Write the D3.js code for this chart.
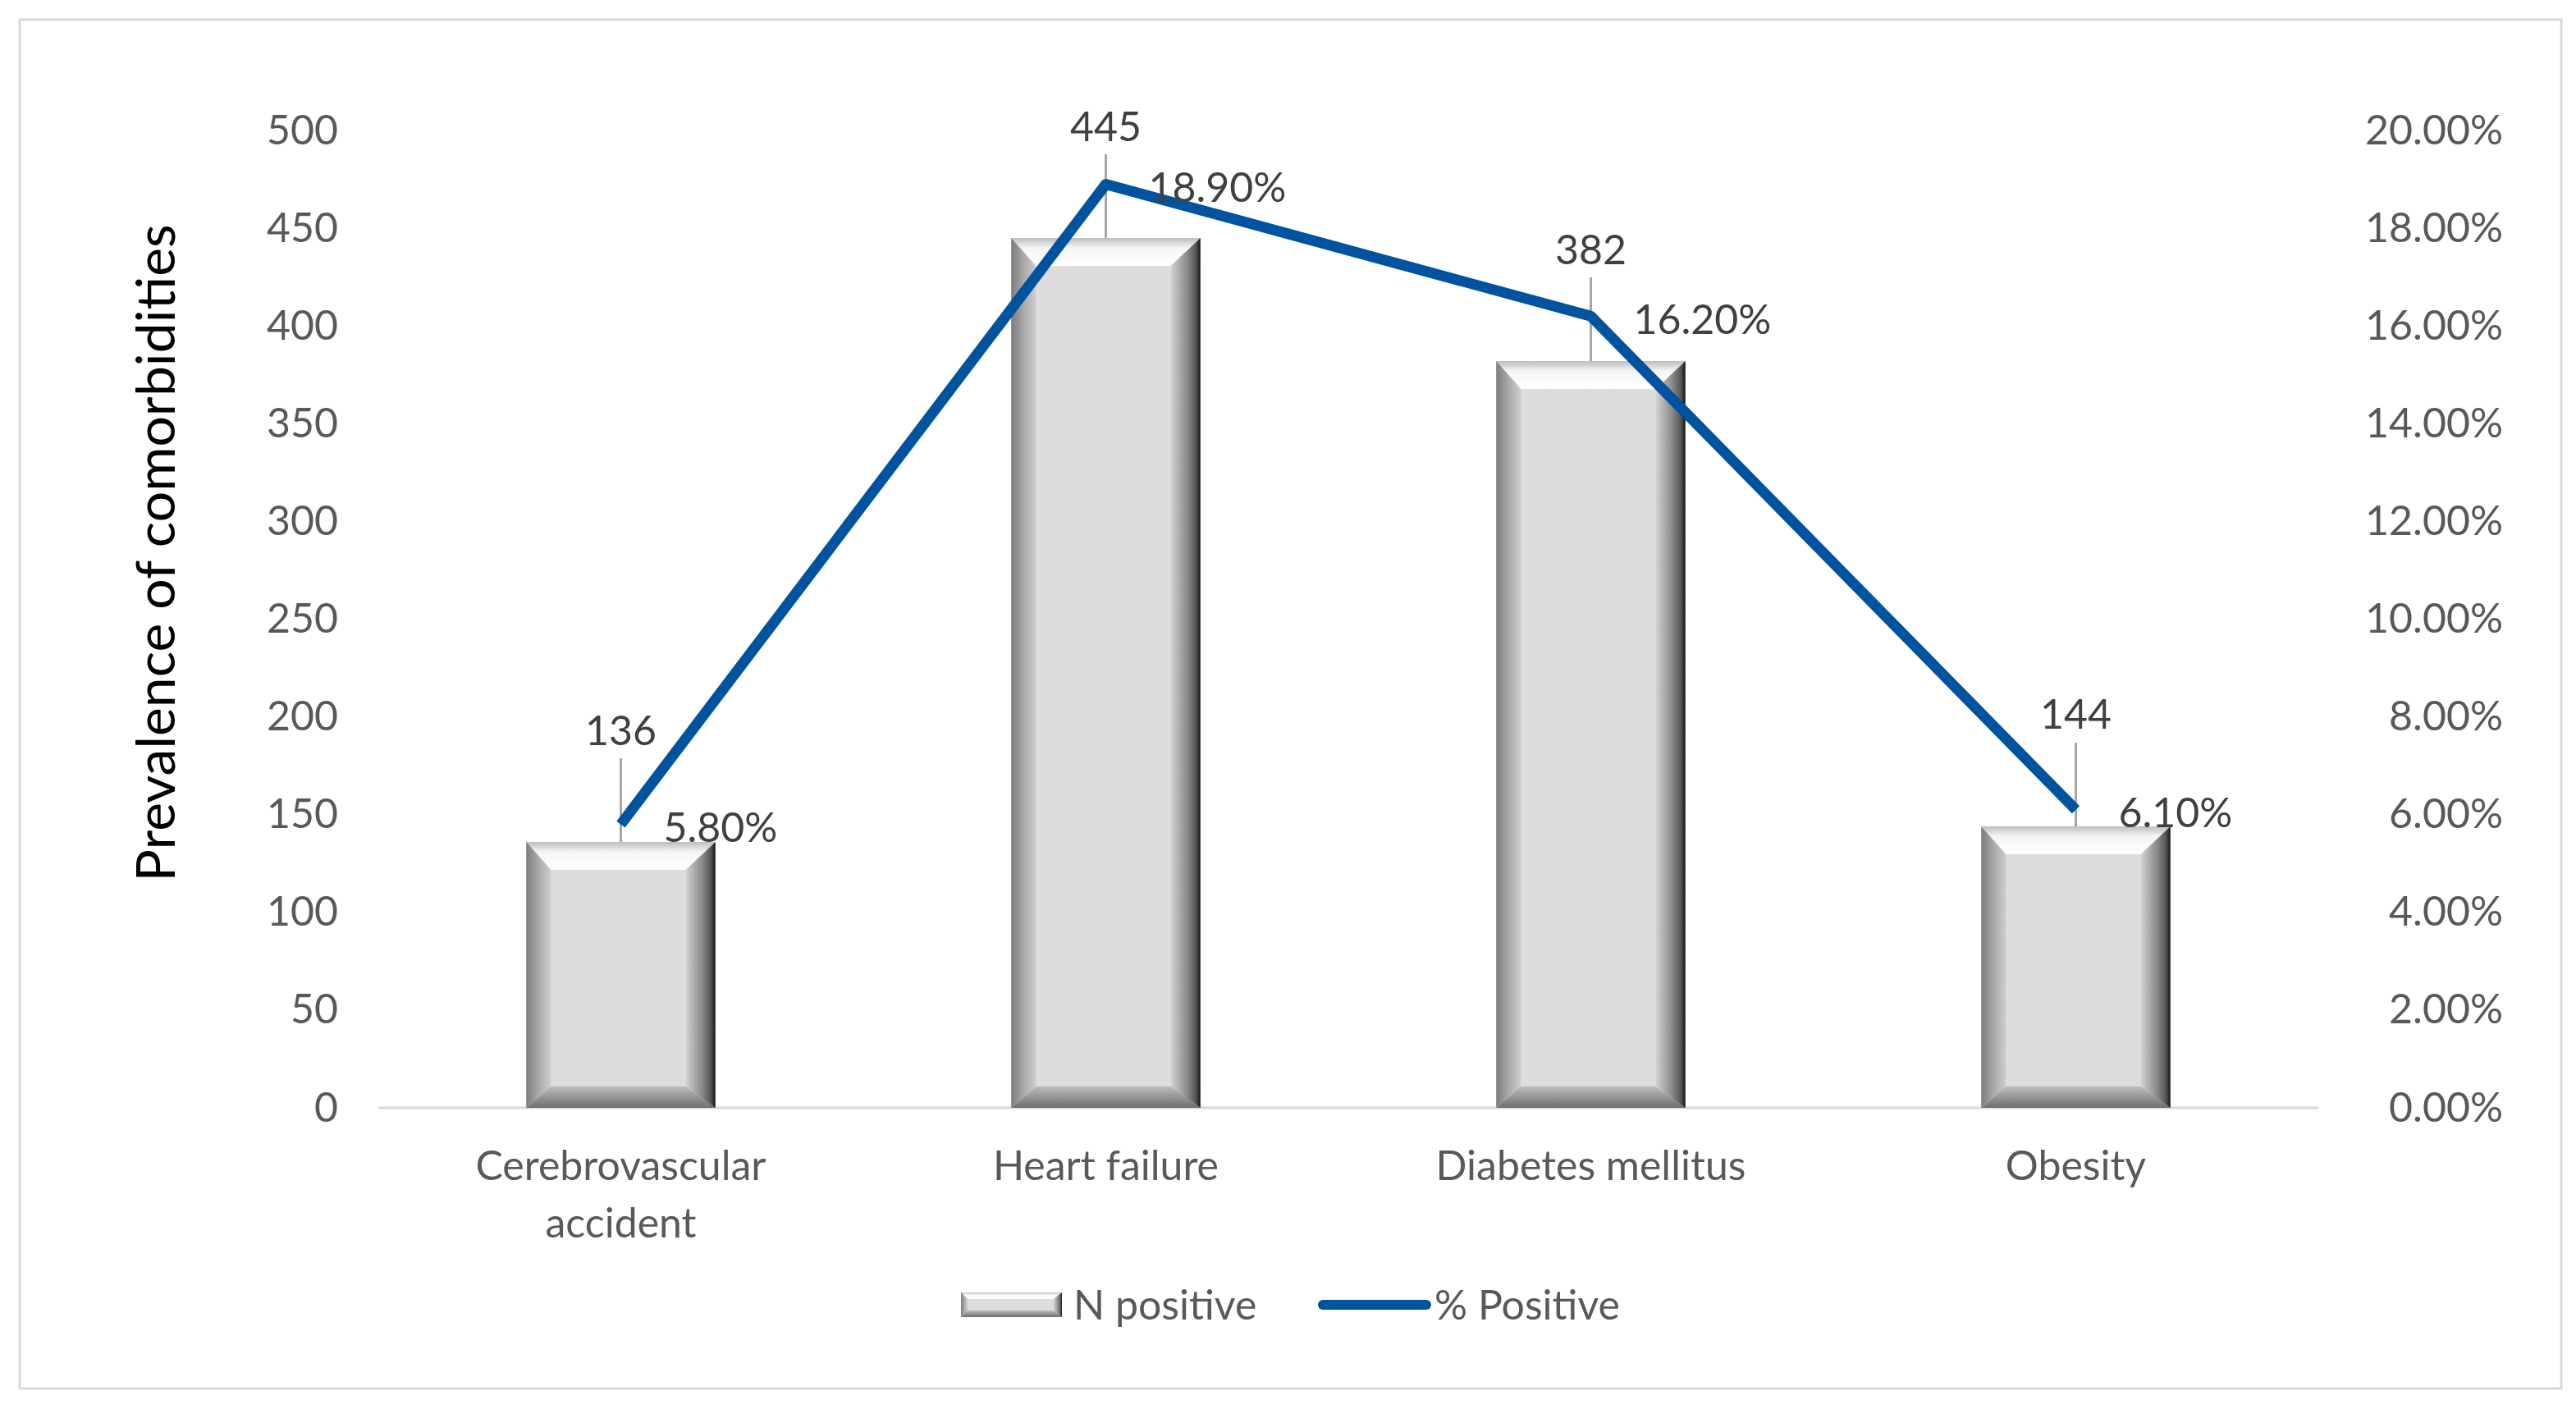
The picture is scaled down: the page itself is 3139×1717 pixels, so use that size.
<!DOCTYPE html>
<html>
<head>
<meta charset="utf-8">
<script src="https://cdn.jsdelivr.net/npm/d3@7"></script>
<style>
  body { margin: 0; background: #fff; }
  text { font-family: Lato, "Open Sans", sans-serif; }
</style>
</head>
<body>
<div id="chart"></div>
<script>
// values
const categories = [["Cerebrovascular", "accident"], ["Heart failure"], ["Diabetes mellitus"], ["Obesity"]];
const nPositive = [136, 445, 382, 144];
const pctPositive = [0.058, 0.189, 0.162, 0.061];
const pctLabels = ["5.80%", "18.90%", "16.20%", "6.10%"];
const leftTicks = [0, 50, 100, 150, 200, 250, 300, 350, 400, 450, 500];
const rightTicks = [0, 0.02, 0.04, 0.06, 0.08, 0.10, 0.12, 0.14, 0.16, 0.18, 0.20];
const seriesNames = ["N positive", "% Positive"];

const W = 3139, H = 1717;
const plot = { left: 461, right: 2825, top: 159, bottom: 1350 };

const svg = d3.select("#chart")
  .append("svg")
    .attr("width", W)
    .attr("height", H);

// gradients for the bevelled bars
const defs = svg.append("defs");
const grad = (id, x2, y2, stops) => {
  const g = defs.append("linearGradient")
    .attr("id", id)
    .attr("x1", 0).attr("y1", 0)
    .attr("x2", x2).attr("y2", y2);
  stops.forEach(s => g.append("stop").attr("offset", s[0]).attr("stop-color", s[1]));
};
grad("bevTop", 0, 1, [[0, "#bdbdbd"], [0.35, "#f4f4f4"], [1, "#ffffff"]]);
grad("bevLeft", 1, 0, [[0, "#7c7c7c"], [0.5, "#a9a9a9"], [1, "#cfcdce"]]);
grad("bevRight", 1, 0, [[0, "#d4d2d3"], [0.55, "#8a8a8a"], [0.85, "#555"], [1, "#111"]]);
grad("bevBottom", 0, 1, [[0, "#bdbbbc"], [1, "#6f6f6f"]]);

// outer frame
svg.append("rect")
  .attr("x", 24).attr("y", 24)
  .attr("width", 3097).attr("height", 1668)
  .attr("fill", "none")
  .attr("stroke", "#d9d9d9")
  .attr("stroke-width", 3);

// scales
const x = d3.scaleBand()
  .domain(d3.range(categories.length))
  .range([plot.left, plot.right])
  .paddingInner(0.61)
  .paddingOuter(0.305);

const yL = d3.scaleLinear().domain([0, 500]).range([plot.bottom, plot.top]);
const yR = d3.scaleLinear().domain([0, 0.2]).range([plot.bottom, plot.top]);

// left axis labels
svg.append("g")
  .attr("transform", "translate(412,0)")
  .call(d3.axisLeft(yL).tickValues(leftTicks).tickSize(0).tickPadding(0))
  .call(g => g.select(".domain").remove())
  .selectAll("text")
    .attr("fill", "#595959")
    .style("font-size", "50px")
    .style("font-family", "Lato, sans-serif");

// right axis labels (right aligned like the reference)
svg.append("g")
  .attr("transform", "translate(3050,0)")
  .call(d3.axisLeft(yR).tickValues(rightTicks).tickSize(0).tickPadding(0).tickFormat(d3.format(".2%")))
  .call(g => g.select(".domain").remove())
  .selectAll("text")
    .attr("fill", "#595959")
    .style("font-size", "50px")
    .style("font-family", "Lato, sans-serif");

// y-axis title
svg.append("text")
  .attr("transform", "translate(190,674) rotate(-90)")
  .attr("text-anchor", "middle")
  .attr("dy", "0.35em")
  .style("font-size", "66px")
  .attr("fill", "#000")
  .text("Prevalence of comorbidities");

// baseline
svg.append("line")
  .attr("x1", plot.left).attr("x2", plot.right)
  .attr("y1", yL(0)).attr("y2", yL(0))
  .attr("stroke", "#d9d9d9")
  .attr("stroke-width", 3);

// draws a bevelled bar
const bevelBar = (g, x0, y0, w, h, b) => {
  const x1 = x0 + w, y1 = y0 + h;
  g.append("rect").attr("x", x0).attr("y", y0).attr("width", w).attr("height", h).attr("fill", "#dedcdd");
  g.append("polygon").attr("fill", "url(#bevTop)")
    .attr("points", [[x0, y0], [x1, y0], [x1 - b.r, y0 + b.t], [x0 + b.l, y0 + b.t]].join(" "));
  g.append("polygon").attr("fill", "url(#bevBottom)")
    .attr("points", [[x0, y1], [x1, y1], [x1 - b.r, y1 - b.b], [x0 + b.l, y1 - b.b]].join(" "));
  g.append("polygon").attr("fill", "url(#bevLeft)")
    .attr("points", [[x0, y0], [x0 + b.l, y0 + b.t], [x0 + b.l, y1 - b.b], [x0, y1]].join(" "));
  g.append("polygon").attr("fill", "url(#bevRight)")
    .attr("points", [[x1, y0], [x1 - b.r, y0 + b.t], [x1 - b.r, y1 - b.b], [x1, y1]].join(" "));
};

// leader lines for the bar labels
const labelOffset = 136;
svg.append("g")
  .selectAll("line")
  .data(nPositive)
  .join("line")
    .attr("x1", (d, i) => x(i) + x.bandwidth() / 2)
    .attr("x2", (d, i) => x(i) + x.bandwidth() / 2)
    .attr("y1", d => yL(d) - labelOffset + 34)
    .attr("y2", d => yL(d))
    .attr("stroke", "#a6a6a6")
    .attr("stroke-width", 3);

// bars
const bars = svg.append("g");
nPositive.forEach((d, i) => {
  bevelBar(bars, x(i), yL(d), x.bandwidth(), yL(0) - yL(d), { t: 34, l: 30, r: 36, b: 26 });
});

// line for % positive
svg.append("path")
  .datum(pctPositive)
  .attr("fill", "none")
  .attr("stroke", "#00539f")
  .attr("stroke-width", 13)
  .attr("stroke-linejoin", "round")
  .attr("d", d3.line()
    .x((d, i) => x(i) + x.bandwidth() / 2)
    .y(d => yR(d))
  );

// bar value labels
svg.append("g")
  .selectAll("text")
  .data(nPositive)
  .join("text")
    .attr("x", (d, i) => x(i) + x.bandwidth() / 2)
    .attr("y", d => yL(d) - labelOffset)
    .attr("dy", "0.35em")
    .attr("text-anchor", "middle")
    .attr("fill", "#404040")
    .style("font-size", "50px")
    .text(d => d);

// percent labels
svg.append("g")
  .selectAll("text")
  .data(pctPositive)
  .join("text")
    .attr("x", (d, i) => x(i) + x.bandwidth() / 2 + 52)
    .attr("y", d => yR(d) + 4)
    .attr("dy", "0.35em")
    .attr("fill", "#404040")
    .style("font-size", "50px")
    .text((d, i) => pctLabels[i]);

// category labels
const cat = svg.append("g")
  .selectAll("text")
  .data(categories)
  .join("text")
    .attr("x", (d, i) => x(i) + x.bandwidth() / 2)
    .attr("y", 1420)
    .attr("text-anchor", "middle")
    .attr("fill", "#595959")
    .style("font-size", "50px");
cat.selectAll("tspan")
  .data(d => d)
  .join("tspan")
    .attr("x", function() { return this.parentNode.getAttribute("x"); })
    .attr("dy", (d, i) => i === 0 ? "0.35em" : "70px")
    .text(d => d);

// legend
const legend = svg.append("g");
bevelBar(legend, 1171, 1575, 123, 30, { t: 8, l: 8, r: 10, b: 8 });
legend.append("text")
  .attr("x", 1308).attr("y", 1590).attr("dy", "0.35em")
  .attr("fill", "#595959")
  .style("font-size", "50px")
  .text(seriesNames[0]);
legend.append("line")
  .attr("x1", 1612).attr("x2", 1738)
  .attr("y1", 1590).attr("y2", 1590)
  .attr("stroke", "#00539f")
  .attr("stroke-width", 12)
  .attr("stroke-linecap", "round");
legend.append("text")
  .attr("x", 1748).attr("y", 1590).attr("dy", "0.35em")
  .attr("fill", "#595959")
  .style("font-size", "50px")
  .text(seriesNames[1]);
</script>
</body>
</html>
